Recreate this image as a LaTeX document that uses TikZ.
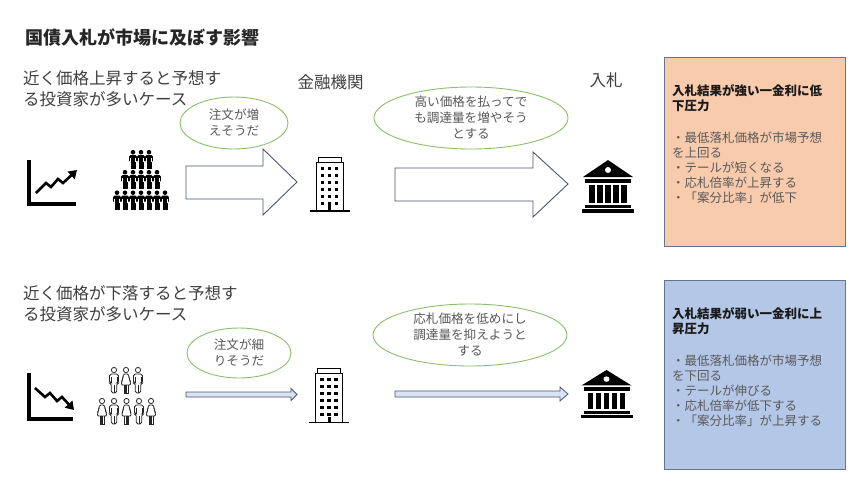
\documentclass[tikz,border=0pt]{standalone}
\usepackage{fontspec}
\newfontfamily\jp{Noto Sans CJK JP}
\usetikzlibrary{arrows.meta,shapes.geometric}
\definecolor{txt}{HTML}{3F3F3F}
\definecolor{btxt}{HTML}{595959}
\definecolor{bubg}{HTML}{8CBF6A}
\definecolor{arrb}{HTML}{4A5670}
\definecolor{arrf}{HTML}{DAE3F3}
\definecolor{orng}{HTML}{F8CBAD}
\definecolor{blu}{HTML}{B4C7E7}
\definecolor{boxb}{HTML}{66758F}
\tikzset{
  lbl/.style={inner sep=0pt, text=txt, font=\jp\fontsize{16.5}{21}\selectfont, align=left},
  bubble/.style={ellipse, draw=bubg, line width=0.9pt, fill=white, inner sep=0pt, align=center,
     text=btxt, font=\jp\fontsize{12.6}{16}\selectfont},
  blk/.style={draw=arrb, line width=0.9pt, fill=white, line join=miter},
  thin/.style={draw=arrb, line width=0.8pt, fill=arrf, line join=miter},
  resbox/.style={draw=boxb, line width=1pt, anchor=north west, minimum width=181pt, minimum height=189pt, inner sep=0pt},
  restext/.style={anchor=north west, inner sep=0pt, align=left, text=btxt, font=\jp\fontsize{12.5}{15}\selectfont},
  axisln/.style={line width=3.2pt, line join=miter},
  pf/.pic={
    \fill (0,2.2) circle (2.3);
    \fill[rounded corners=1.4pt] (-3.9,5) rectangle (3.9,12);
    \fill (-2.5,11) rectangle (-0.3,19);
    \fill (0.3,11) rectangle (2.5,19);
    \draw[white, line width=0.4pt] (-2.5,8) -- (-2.5,12) (2.5,8) -- (2.5,12);
  },
  pm/.pic={
    \draw[line width=0.8pt] (0,3) circle (2.6);
    \draw[line width=0.8pt, rounded corners=1.8pt] (-4.5,16) -- (-4.5,7) -- (4.5,7) -- (4.5,16) -- (2.8,16) -- (2.8,26) -- (-2.8,26) -- (-2.8,16) -- cycle;
    \draw[line width=0.6pt] (-2.8,10) -- (-2.8,16) (2.8,10) -- (2.8,16) (0,17.5) -- (0,26);
  },
  pw/.pic={
    \draw[line width=0.8pt] (0,3) circle (2.6);
    \draw[line width=0.8pt, rounded corners=1.2pt] (-2.4,7) -- (2.4,7) -- (4.8,18) -- (-4.8,18) -- cycle;
    \draw[line width=0.6pt] (-2.6,9.5) -- (-4.6,15) (2.6,9.5) -- (4.6,15);
    \draw[line width=0.8pt] (-2,18) -- (-2,26) -- (-0.4,26) -- (-0.4,18) (0.4,18) -- (0.4,26) -- (2,26) -- (2,18);
  },
  bldg/.pic={
    \draw[line width=1pt] (-11.5,0) rectangle (11.5,5);
    \draw[line width=1pt] (-13.5,5) rectangle (13.5,53.5);
    \draw[line width=1.6pt] (-20,54) -- (20,54);
    \foreach \r in {0,...,5}{
      \foreach \c in {-7,0,7}{
        \fill (\c-1.7,9.5+\r*7) rectangle (\c+1.7,12.9+\r*7);
      }
    }
    \fill (-1.5,48) rectangle (1.5,54);
  },
  bank/.pic={
    \fill (-25,17) -- (0,0) -- (25,17) -- cycle;
    \fill[white] (0,10) circle (3);
    \fill (-23,18.5) rectangle (23,23);
    \foreach \c in {-16,-8,0,8,16}{ \fill (\c-2.6,25) rectangle (\c+2.6,43); }
    \fill (-23,44.5) rectangle (23,48);
    \fill (-26,49) rectangle (26,53);
  }
}
\begin{document}
\begin{tikzpicture}[x=1pt,y=-1pt]
\useasboundingbox (0,0) rectangle (860,485);
\fill[white] (0,0) rectangle (860,485);

% title and labels
\node[anchor=west, inner sep=0pt, text=black!85, font=\jp\bfseries\fontsize{18}{20}\selectfont] (title) at (25,38) {国債入札が市場に及ぼす影響};
\node[lbl, anchor=north west] (case1) at (23,70.5) {近く価格上昇すると予想す\\る投資家が多いケース};
\node[lbl, anchor=north west] (case2) at (23,285.5) {近く価格が下落すると予想す\\る投資家が多いケース};
\node[lbl] (kinyu) at (330.5,82) {金融機関};
\node[lbl] (nyusatsu) at (606,80) {入札};

% bubbles
\node[bubble, minimum width=108pt, minimum height=52pt] (b1) at (234,123) {注文が増\\えそうだ};
\node[bubble, minimum width=194pt, minimum height=62pt] (b2) at (471,118) {高い価格を払ってで\\も調達量を増やそう\\とする};
\node[bubble, minimum width=104pt, minimum height=50pt] (b3) at (239,353) {注文が細\\りそうだ};
\node[bubble, minimum width=194pt, minimum height=62pt] (b4) at (470,335) {応札価格を低めにし\\調達量を抑えようと\\する};

% arrows
\draw[blk] (186,166) -- (263,166) -- (263,149) -- (297,182) -- (263,215) -- (263,199) -- (186,199) -- cycle;
\draw[blk] (395,168) -- (533,168) -- (533,152) -- (568,184) -- (533,217) -- (533,201) -- (395,201) -- cycle;
\draw[thin] (186,392) -- (291,392) -- (291,388.5) -- (297,394.5) -- (291,400.5) -- (291,397) -- (186,397) -- cycle;
\draw[thin] (395,391) -- (560,391) -- (560,387) -- (568,394) -- (560,401) -- (560,397) -- (395,397) -- cycle;

% charts
\draw[axisln] (29,160) -- (29,204) -- (76,204);
\draw[line width=2.6pt, line join=miter, -{Triangle[length=8pt,width=10pt]}] (36,193) -- (46,183) -- (51,187) -- (58,179) -- (63,183) -- (77,170);
\draw[axisln] (29,373) -- (29,419) -- (73,419);
\draw[line width=2.6pt, line join=miter, -{Triangle[length=8pt,width=10pt]}] (35,388) -- (45,397) -- (50,393) -- (57,401) -- (62,397) -- (74,410);

% people (top, filled)
\foreach \x in {133,141,149}{ \pic at (\x,150) {pf}; }
\foreach \x in {125,133,141,149,157}{ \pic at (\x,170) {pf}; }
\foreach \x in {117,125,133,141,149,157,165}{ \pic at (\x,190.5) {pf}; }

% people (bottom, outlined)
\pic[draw=black!85] at (114,367) {pm};
\pic[draw=black!85] at (126,367) {pw};
\pic[draw=black!85] at (138,367) {pm};
\pic[draw=black!85] at (102,398) {pw};
\pic[draw=black!85] at (114,398) {pm};
\pic[draw=black!85] at (126.5,398) {pw};
\pic[draw=black!85] at (139,398) {pm};
\pic[draw=black!85] at (151,398) {pw};

% buildings
\pic at (329.5,157) {bldg};
\pic at (329,368.5) {bldg};

% banks
\pic at (608,160) {bank};
\pic[yscale=0.91] at (606.5,370) {bank};

% result boxes
\node[resbox, fill=orng] (r1) at (664,57) {};
\node[restext] (t1) at (672,84) {{\bfseries\color{black!90}入札結果が強い一金利に低}\\{\bfseries\color{black!90}下圧力}\\[17pt]・最低落札価格が市場予想\\を上回る\\・テールが短くなる\\・応札倍率が上昇する\\・「案分比率」が低下};
\node[resbox, fill=blu] (r2) at (664,280) {};
\node[restext] (t2) at (672,307) {{\bfseries\color{black!90}入札結果が弱い一金利に上}\\{\bfseries\color{black!90}昇圧力}\\[17pt]・最低落札価格が市場予想\\を下回る\\・テールが伸びる\\・応札倍率が低下する\\・「案分比率」が上昇する};
\end{tikzpicture}
\end{document}
